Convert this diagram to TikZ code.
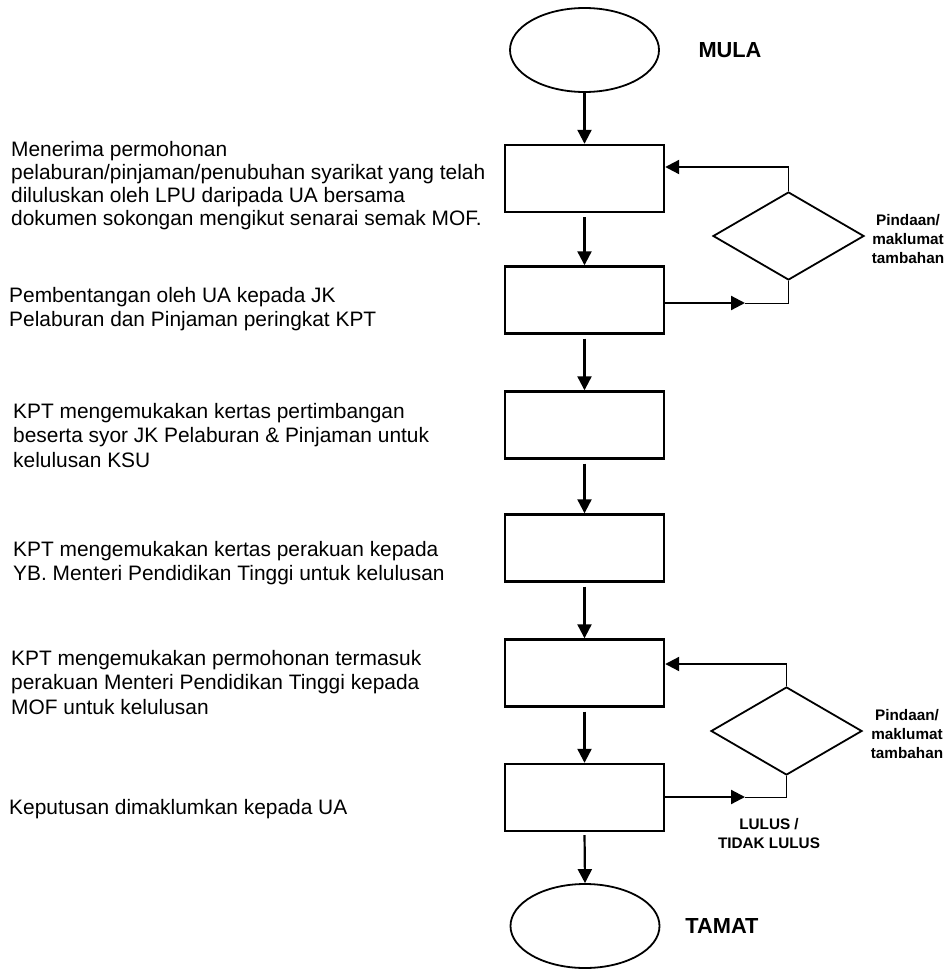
\documentclass[tikz,border=0pt]{standalone}
\usepackage{fontspec}
\setmainfont{Liberation Sans}
\usetikzlibrary{shapes.geometric,arrows.meta}
\begin{document}
\begin{tikzpicture}[x=1pt,y=-1pt,
    proses/.style={draw,line width=2.4pt,minimum width=159pt,minimum height=67pt,inner sep=0pt},
    hujung/.style={draw,ellipse,line width=1.8pt,minimum width=149pt,minimum height=84pt,inner sep=0pt},
    semak/.style={draw,diamond,line width=1.8pt,minimum width=151pt,minimum height=88pt,inner sep=0pt},
    nota/.style={anchor=north west,align=left,inner sep=0pt,font=\fontsize{20.9}{24.5}\selectfont},
    tajuk/.style={font=\bfseries\fontsize{21.8}{26}\selectfont,inner sep=0pt},
    kecil/.style={font=\bfseries\fontsize{15.3}{19}\selectfont,align=center,inner sep=0pt},
    aliran/.style={line width=2.2pt,-{Triangle[length=14pt,width=14pt]}},
    balik/.style={line width=1pt}]
  \useasboundingbox (0,0) rectangle (952,969);
  \draw
    (584.5,50) node[hujung] (mula){}
    (730,50) node[tajuk] (tmula){MULA}
    (584.5,178.5) node[proses] (b1){}
    (584.5,300) node[proses] (b2){}
    (584.5,425) node[proses] (b3){}
    (584.5,548) node[proses] (b4){}
    (584.5,673) node[proses] (b5){}
    (584.5,797.5) node[proses] (b6){}
    (585,926) node[hujung] (tamat){}
    (722,926) node[tajuk] (ttamat){TAMAT}
    (788.5,236) node[semak] (d1){}
    (786.5,731) node[semak] (d2){}
    (908,239) node[kecil] (k1){Pindaan/\\maklumat\\tambahan}
    (907,734) node[kecil] (k2){Pindaan/\\maklumat\\tambahan}
    (769,834) node[kecil] (k3){LULUS /\\TIDAK LULUS};
  \draw
    (11,141) node[nota,font=\fontsize{20.9}{23}\selectfont] (n1){Menerima permohonan\\pelaburan/pinjaman/penubuhan syarikat yang telah\\diluluskan oleh LPU daripada UA bersama\\dokumen sokongan mengikut senarai semak MOF.}
    (9,287) node[nota] (n2){Pembentangan oleh UA kepada JK\\Pelaburan dan Pinjaman peringkat KPT}
    (13,403) node[nota] (n3){KPT mengemukakan kertas pertimbangan\\beserta syor JK Pelaburan \& Pinjaman untuk\\kelulusan KSU}
    (13,541) node[nota] (n4){KPT mengemukakan kertas perakuan kepada\\YB. Menteri Pendidikan Tinggi untuk kelulusan}
    (11,650) node[nota] (n5){KPT mengemukakan permohonan termasuk\\perakuan Menteri Pendidikan Tinggi kepada\\MOF untuk kelulusan}
    (9,799) node[nota] (n6){Keputusan dimaklumkan kepada UA};
  \coordinate (p1) at (788.5,167);
  \coordinate (q1) at (745,303);
  \coordinate (p2) at (786.5,664);
  \coordinate (q2) at (745,797);
  \begin{scope}[aliran]
    \draw (mula.south) to (b1.north);
    \draw[shorten <=4pt] (b1.south) to (b2.north);
    \draw[shorten <=4pt] (b2.south) to (b3.north);
    \draw[shorten <=4pt] (b3.south) to (b4.north);
    \draw[shorten <=4pt] (b4.south) to (b5.north);
    \draw[shorten <=4pt] (b5.south) to (b6.north);
    \draw[shorten <=3pt] (b6.south) to (tamat.north);
    \draw (p1) to (p1 -| b1.east);
    \draw (b2.east |- q1) to (q1);
    \draw (p2) to (p2 -| b5.east);
    \draw (b6.east |- q2) to (q2);
  \end{scope}
  \begin{scope}[balik]
    \draw (d1.north) to (p1);
    \draw (d1.south) |- (q1);
    \draw (d2.north) to (p2);
    \draw (d2.south) |- (q2);
  \end{scope}
\end{tikzpicture}
\end{document}
